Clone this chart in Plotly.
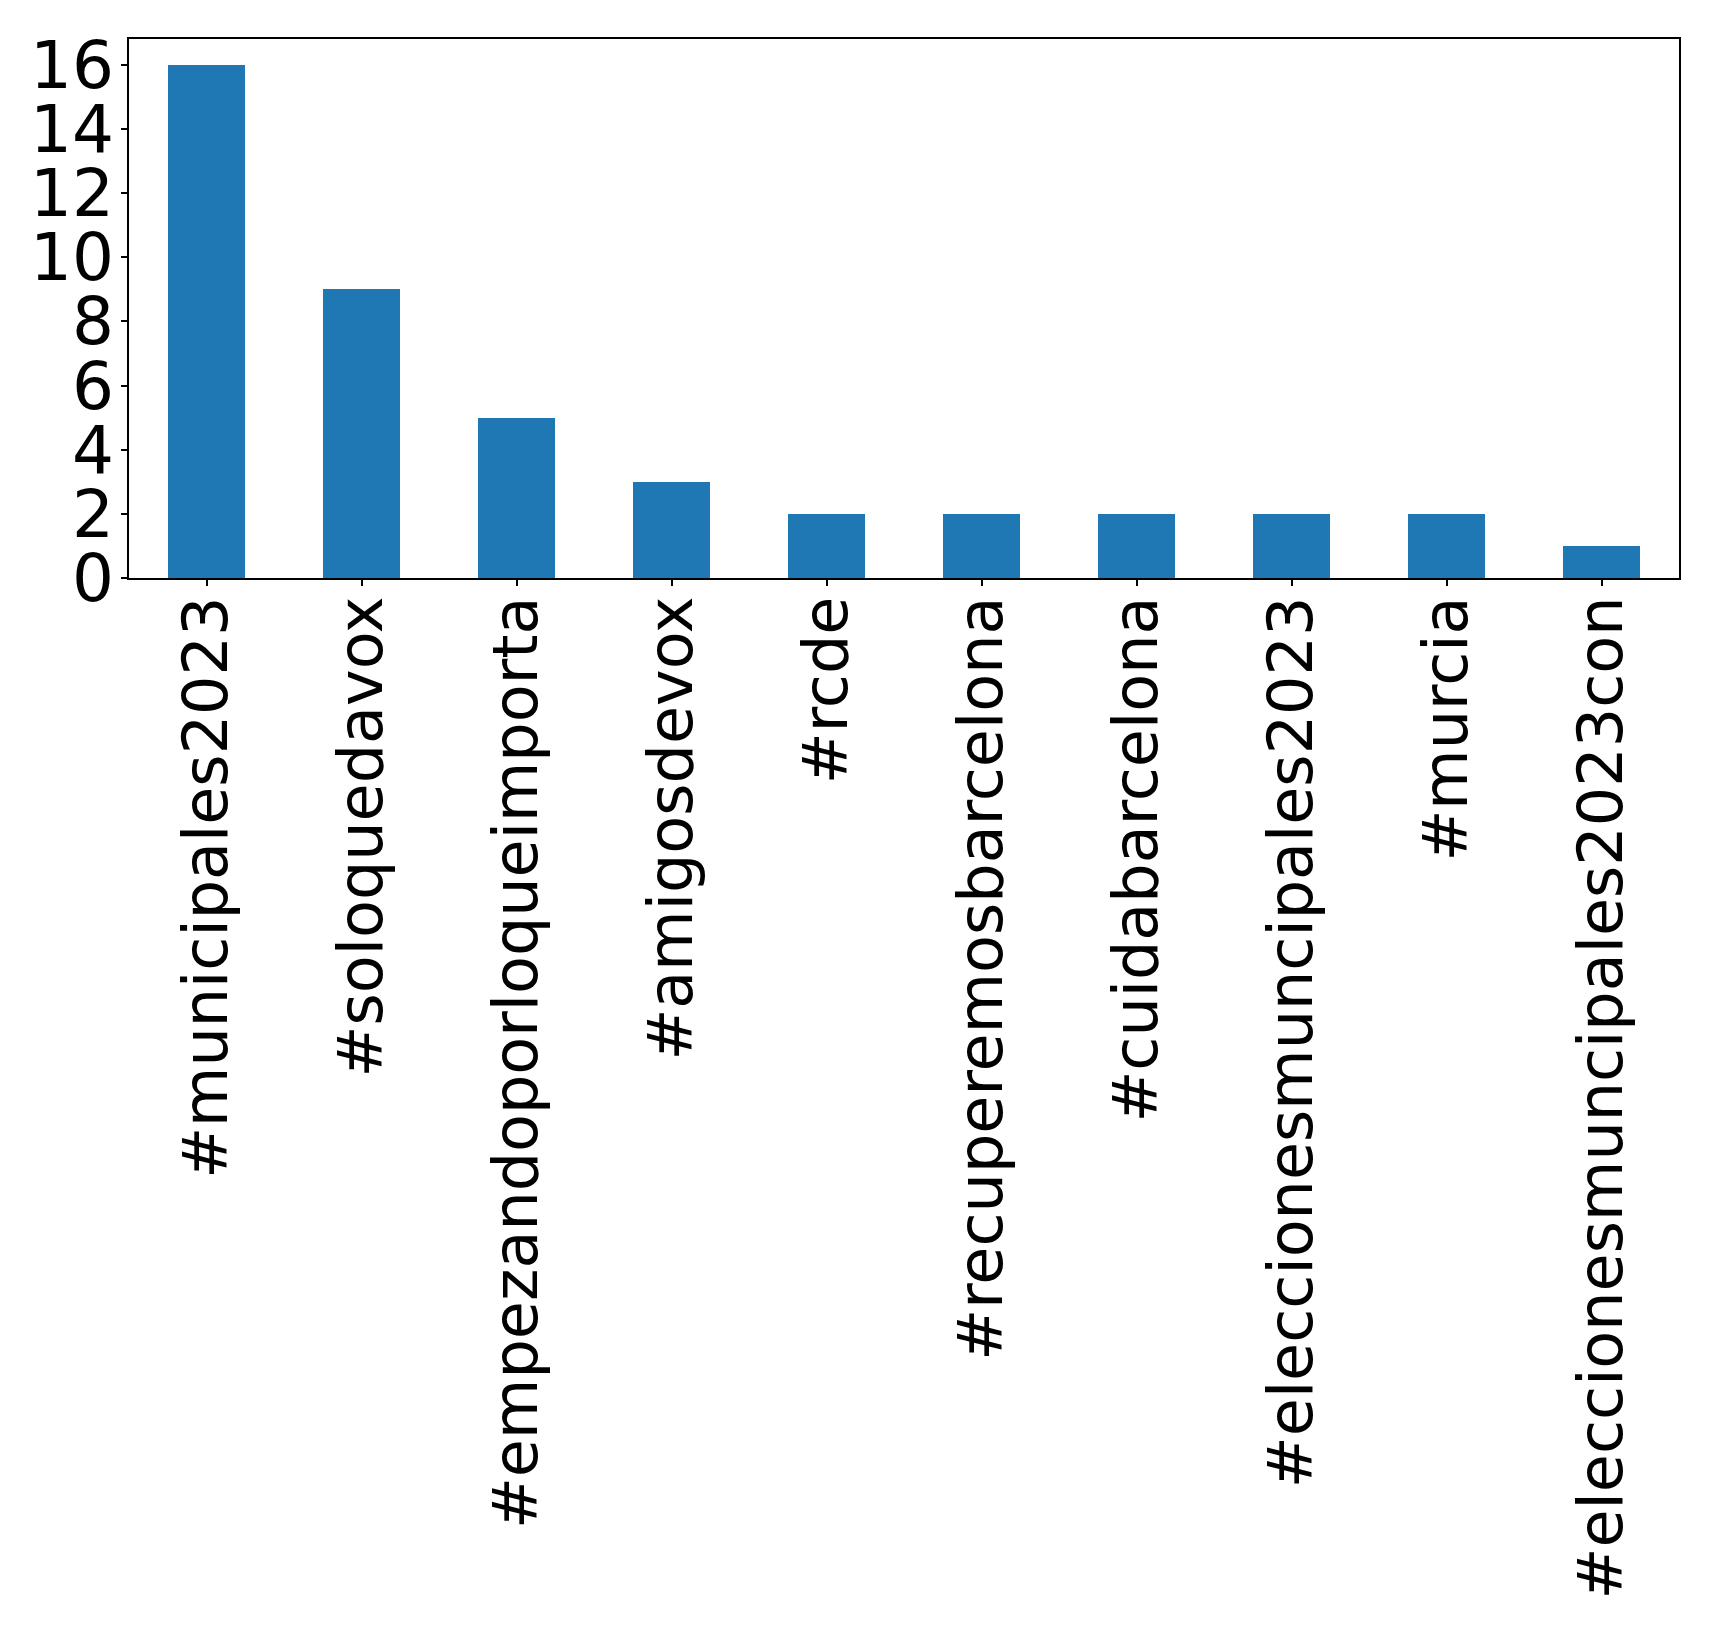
import plotly.graph_objects as go

hashtags = [
    "#municipales2023",
    "#soloquedavox",
    "#empezandoporloqueimporta",
    "#amigosdevox",
    "#rcde",
    "#recuperemosbarcelona",
    "#cuidabarcelona",
    "#eleccionesmuncipales2023",
    "#murcia",
    "#eleccionesmuncipales2023con",
]
counts = [16, 9, 5, 3, 2, 2, 2, 2, 2, 1]
y_ticks = [0, 2, 4, 6, 8, 10, 12, 14, 16]

fig = go.Figure()
fig.add_trace(go.Bar(x=hashtags, y=counts, width=0.5, marker_color="#1f77b4",
                     marker_line_width=0, showlegend=False))

axis_style = dict(showline=True, linecolor="black", linewidth=1.5, mirror=True,
                  ticks="outside", ticklen=6, tickwidth=1.5, tickcolor="black",
                  showgrid=False, zeroline=False, automargin=False)

fig.update_xaxes(range=[-0.5, 9.5], tickangle=-90, ticklabelstandoff=-14,
                 tickfont=dict(family="DejaVu Sans", size=62, color="black"),
                 **axis_style)
fig.update_yaxes(range=[0, 16.8], tickvals=y_ticks, ticklabelstandoff=-6,
                 tickfont=dict(family="DejaVu Sans", size=66, color="black"),
                 **axis_style)

# page body has an 8px margin, so the figure is 8px smaller and margins shifted
fig.update_layout(
    width=1711, height=1631,
    plot_bgcolor="white", paper_bgcolor="white",
    margin=dict(l=121, r=40, t=31, b=1061),
    bargap=0,
)

fig.write_html("out.html")
